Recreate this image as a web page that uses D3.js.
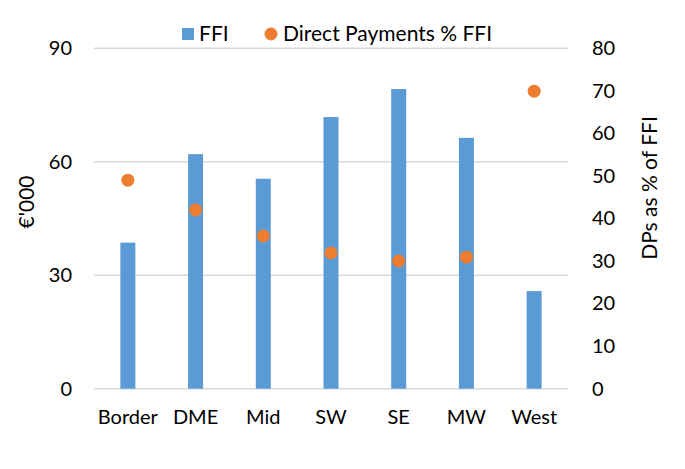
<!DOCTYPE html>
<html><head><meta charset="utf-8">
<script src="https://cdn.jsdelivr.net/npm/d3@7"></script>
<style>body{margin:0;background:#fff;} svg{display:block;} text{font-family:Lato, "Open Sans", sans-serif;fill:#000;}</style>
</head><body>
<svg id="c" width="685" height="469"></svg>
<script>
const categories = ["Border","DME","Mid","SW","SE","MW","West"];
const ffi = [38.6, 62.0, 55.5, 71.8, 79.2, 66.3, 25.8];
const dpPct = [49.0, 42.0, 35.9, 31.9, 30.0, 30.9, 69.9];
const leftTicks = [0, 30, 60, 90];
const rightTicks = [0,10,20,30,40,50,60,70,80];

const svg = d3.select("#c");
const L = 94, R = 568, T = 48.2, B = 388.7;
const x = d3.scaleBand().domain(categories).range([L, R]).paddingInner(0).paddingOuter(0);
const yL = d3.scaleLinear().domain([0, 90]).range([B, T]);
const yR = d3.scaleLinear().domain([0, 80]).range([B, T]);

// gridlines
svg.append("g").selectAll("line").data(leftTicks).join("line")
  .attr("x1", L).attr("x2", R).attr("y1", d => yL(d)).attr("y2", d => yL(d))
  .attr("stroke", "#d9d9d9").attr("stroke-width", 1.5);

// bars
const bw = 15;
svg.append("g").selectAll("rect").data(categories).join("rect")
  .attr("x", (d) => x(d) + x.bandwidth()/2 - bw/2)
  .attr("width", bw)
  .attr("y", (d,i) => yL(ffi[i]))
  .attr("height", (d,i) => B - yL(ffi[i]))
  .attr("fill", "#5b9bd5");

// dots
svg.append("g").selectAll("circle").data(categories).join("circle")
  .attr("cx", d => x(d) + x.bandwidth()/2)
  .attr("cy", (d,i) => yR(dpPct[i]))
  .attr("r", 6.5).attr("fill", "#ed7d31");

const FS = 20;
// left axis
const axL = d3.axisLeft(yL).tickValues(leftTicks).tickSize(0).tickPadding(0);
const gL = svg.append("g").attr("transform", `translate(72,0)`).call(axL);
gL.select(".domain").remove();
gL.selectAll("text").attr("font-size", FS).attr("font-family", "Lato").attr("fill","#000");

// right axis
const axR = d3.axisRight(yR).tickValues(rightTicks).tickSize(0).tickPadding(0);
const gR = svg.append("g").attr("transform", `translate(592,0)`).call(axR);
gR.select(".domain").remove();
gR.selectAll("text").attr("font-size", FS).attr("font-family", "Lato").attr("fill","#000");

// bottom axis
const axB = d3.axisBottom(x).tickSize(0).tickPadding(0);
const gB = svg.append("g").attr("transform", `translate(0,410)`).call(axB);
gB.select(".domain").remove();
gB.selectAll("text").attr("font-size", FS).attr("font-family", "Lato").attr("fill","#000");

// axis titles
svg.append("text").attr("transform", "translate(34,202) rotate(-90)")
  .attr("text-anchor", "middle").attr("font-size", 21).text("€'000");
svg.append("text").attr("transform", "translate(657,188) rotate(-90)")
  .attr("text-anchor", "middle").attr("font-size", 21).text("DPs as % of FFI");

// legend
const lg = svg.append("g");
lg.append("rect").attr("x", 182).attr("y", 28).attr("width", 12).attr("height", 12).attr("fill", "#5b9bd5");
lg.append("text").attr("x", 199).attr("y", 41).attr("font-size", 21).text("FFI");
lg.append("circle").attr("cx", 271).attr("cy", 34).attr("r", 6.5).attr("fill", "#ed7d31");
lg.append("text").attr("x", 283).attr("y", 41).attr("font-size", 21).text("Direct Payments % FFI");
</script>
</body></html>
